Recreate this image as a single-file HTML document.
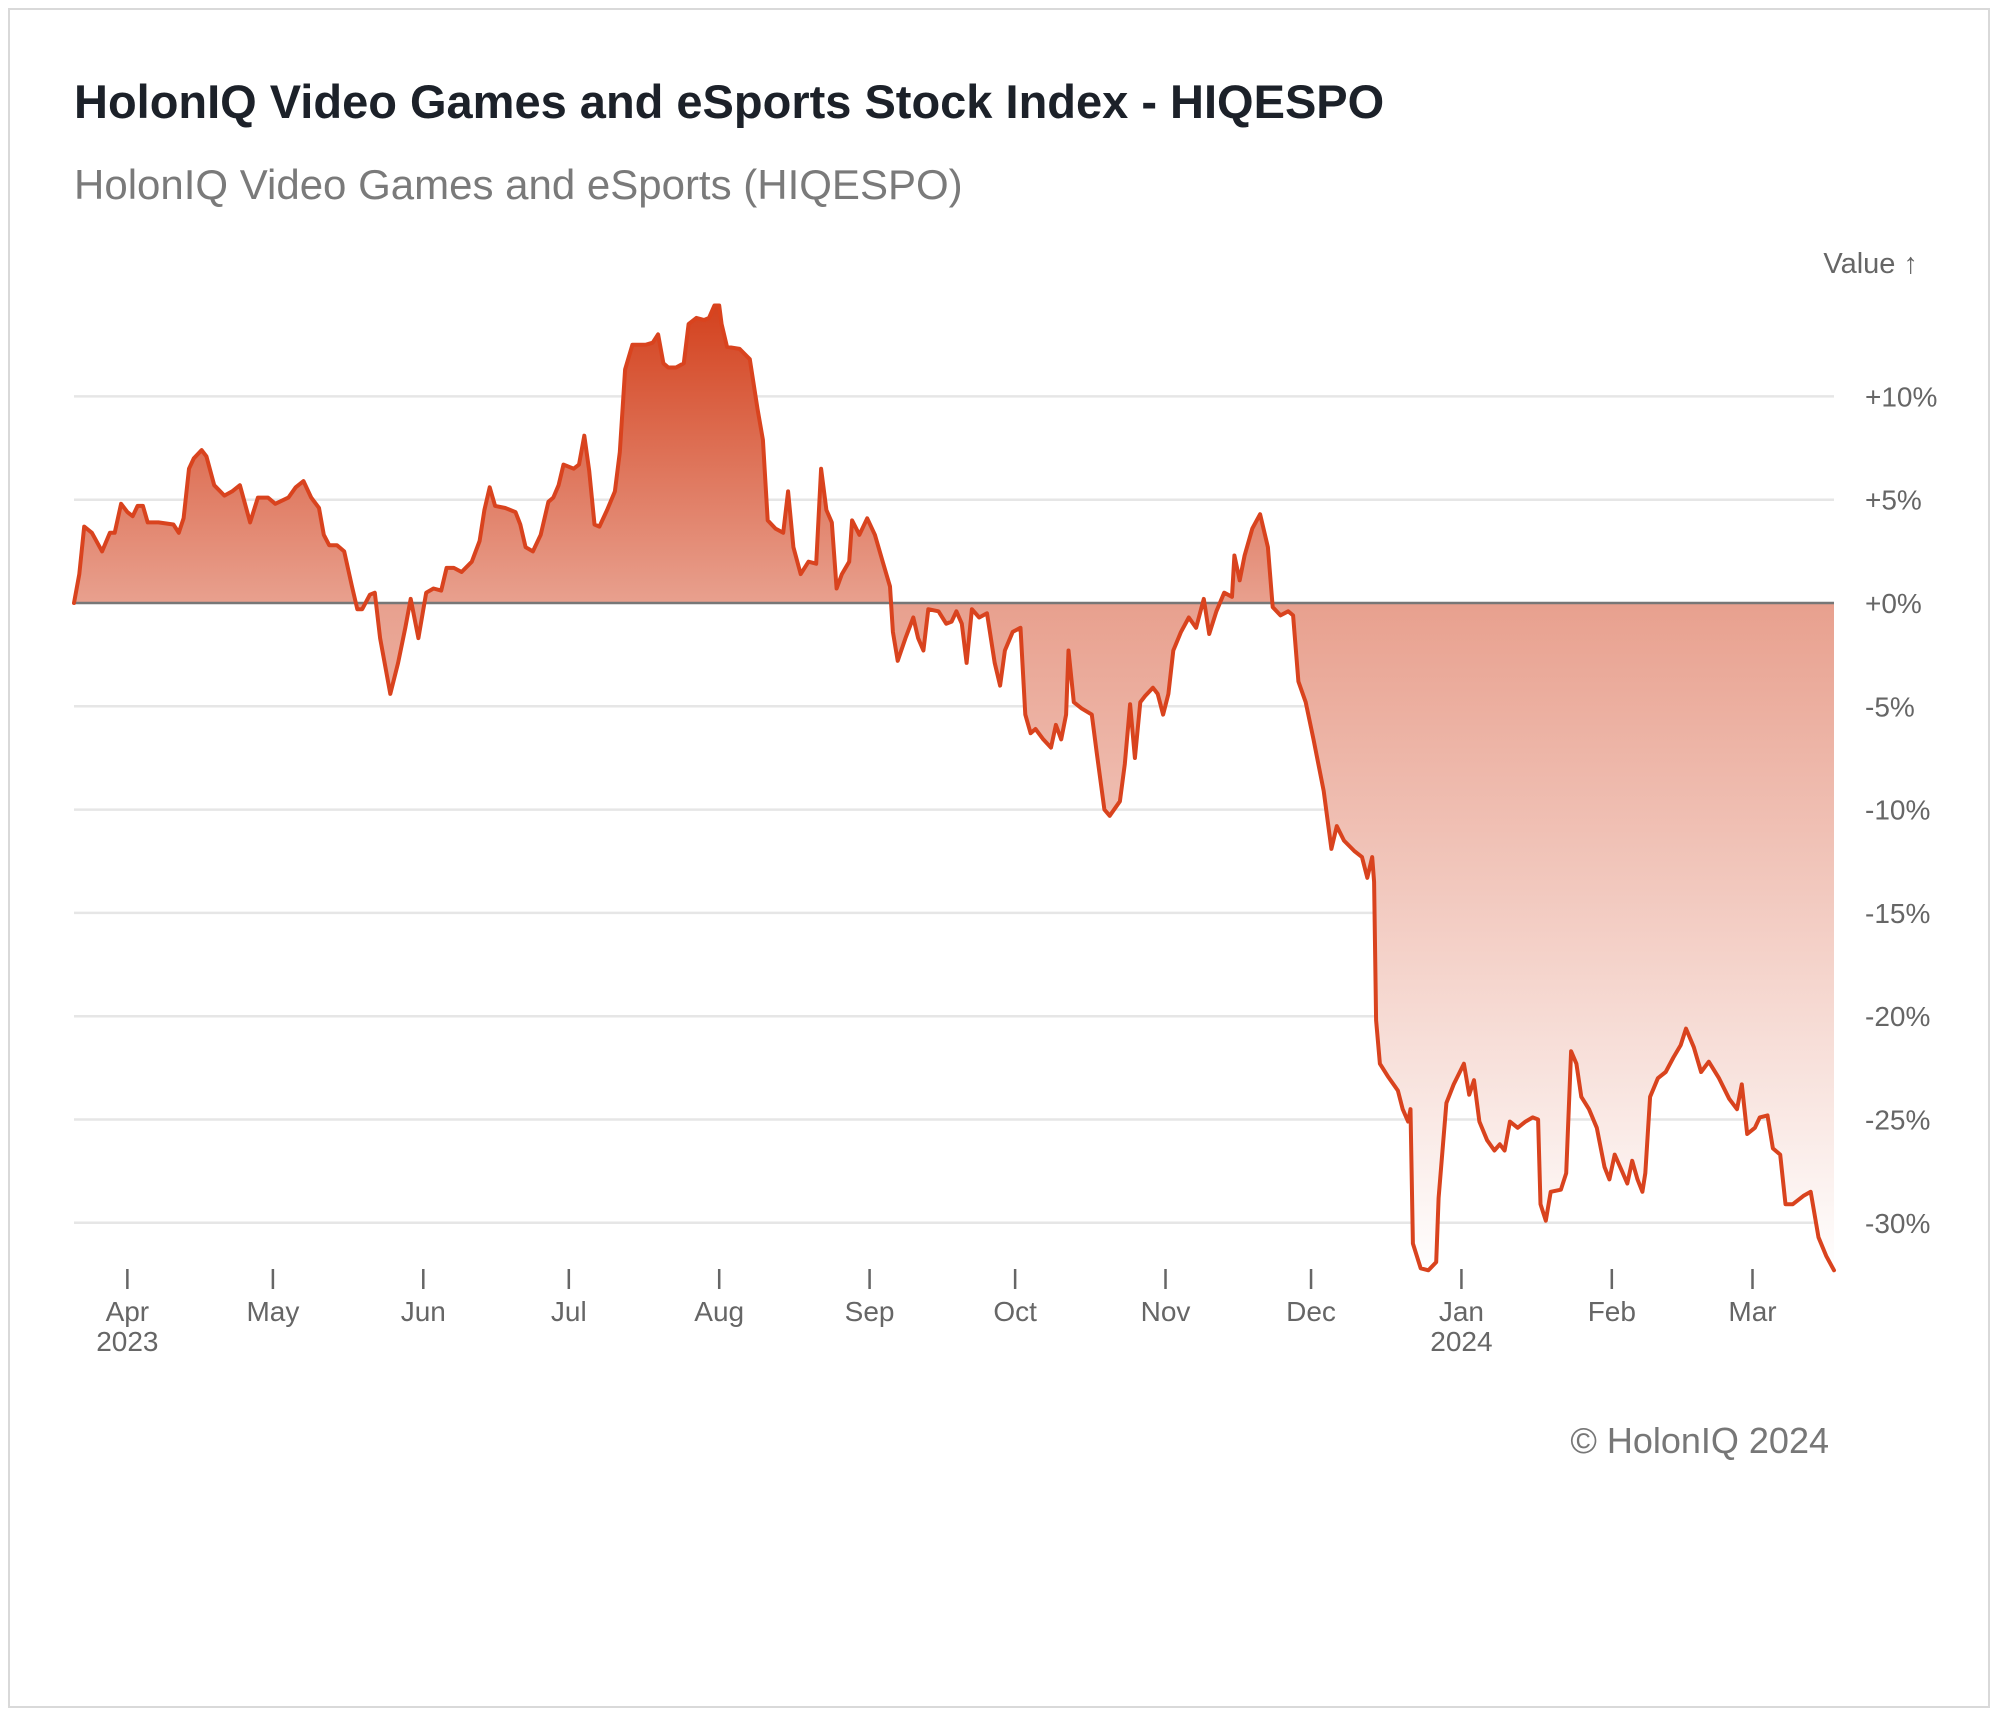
<!DOCTYPE html>
<html><head><meta charset="utf-8"><style>
html,body{margin:0;padding:0;background:#fff;}
body{width:2000px;height:1718px;position:relative;font-family:"Liberation Sans",sans-serif;}
#frame{position:absolute;left:8px;top:8px;width:1982px;height:1700px;border:2px solid #d9d9d9;box-sizing:border-box;}
</style></head><body>
<div id="frame"></div>
<svg id="chart" width="2000" height="1718" style="position:absolute;left:0;top:0">
<defs><linearGradient id="g" gradientUnits="userSpaceOnUse" x1="0" y1="300" x2="0" y2="1275">
<stop offset="0" stop-color="#d3401c"/><stop offset="0.31" stop-color="#e8a08e"/><stop offset="1" stop-color="#ffffff"/></linearGradient></defs>
<text x="74" y="118" font-size="47" font-weight="bold" fill="#1c2129">HolonIQ Video Games and eSports Stock Index - HIQESPO</text>
<text x="74" y="199" font-size="42" fill="#7a7a7a">HolonIQ Video Games and eSports (HIQESPO)</text>
<text x="1918" y="273" font-size="29" fill="#666" text-anchor="end">Value ↑</text>
<g id="grid"></g><g id="area"></g><g id="axes"></g>
<text x="1829" y="1453" font-size="36" fill="#777" text-anchor="end">© HolonIQ 2024</text>
</svg>
<script>
const days=[0,1.1,2.1,3.7,5.8,7.4,8.4,9.7,11.0,12.1,13.1,14.2,15.2,17.4,20.5,21.6,22.6,23.7,24.7,26.3,27.3,28.9,31.0,32.6,34.2,36.3,37.9,40.0,41.5,44.2,45.7,47.3,48.9,50.5,51.5,52.6,54.2,55.7,57.3,58.4,59.4,61.0,62.0,63.1,65.2,66.8,68.3,69.4,71.0,72.6,74.1,75.7,76.8,78.3,79.9,82.0,83.6,84.6,85.7,86.8,88.9,91.0,92.0,93.1,94.6,96.2,97.8,98.8,99.9,100.9,103.0,104.1,105.2,106.2,107.3,108.3,109.9,111.5,112.5,113.6,115.1,117.8,119.3,120.4,121.5,122.5,124.1,125.7,126.7,128.3,129.9,130.9,132.0,133.0,133.5,134.6,137.2,139.3,140.9,142.0,143.0,144.6,146.2,147.2,148.3,149.8,151.4,153.0,154.0,155.1,156.2,157.2,158.3,159.8,160.4,161.9,163.5,165.1,166.7,168.2,168.8,169.8,171.4,173.0,174.0,175.1,176.1,178.2,179.8,180.9,181.9,183.0,184.0,185.1,186.6,188.2,189.8,190.9,191.9,193.5,195.1,196.1,197.2,198.2,199.8,201.4,202.4,203.5,204.5,205.0,206.1,207.7,209.8,210.8,212.4,213.5,215.6,216.6,217.7,218.7,219.8,220.8,222.4,223.4,224.5,225.6,226.6,228.2,229.8,231.3,232.9,234.0,235.5,237.1,238.7,239.2,240.3,241.3,242.9,244.5,246.1,247.1,248.7,250.3,251.3,252.4,253.9,255.5,257.6,259.2,260.3,261.8,263.9,265.5,266.6,267.6,268.0,268.4,269.2,270.8,272.9,273.9,275.0,275.5,276.0,277.6,279.2,280.8,281.3,282.9,284.4,286.5,287.6,288.6,289.7,291.3,292.8,293.9,294.9,296.0,297.6,299.2,300.7,301.8,302.3,303.4,304.4,306.5,307.6,308.6,309.7,310.7,312.3,313.9,315.5,316.5,317.6,319.1,320.2,321.2,322.3,323.3,323.9,324.9,326.5,328.1,329.7,331.2,332.3,333.9,335.4,337.0,339.1,341.2,342.8,343.8,344.9,346.5,347.5,349.1,350.2,351.7,352.8,354.3,356.5,358.0,359.6,361.2,362.8];
const values=[0,1.4,3.7,3.4,2.5,3.4,3.4,4.8,4.4,4.2,4.7,4.7,3.9,3.9,3.8,3.4,4.1,6.5,7.0,7.4,7.1,5.7,5.2,5.4,5.7,3.9,5.1,5.1,4.8,5.1,5.6,5.9,5.1,4.6,3.3,2.8,2.8,2.5,0.8,-0.3,-0.3,0.4,0.5,-1.7,-4.4,-2.9,-1.2,0.2,-1.7,0.5,0.7,0.6,1.7,1.7,1.5,2.0,3.0,4.5,5.6,4.7,4.6,4.4,3.8,2.7,2.5,3.3,4.9,5.1,5.7,6.7,6.5,6.7,8.1,6.4,3.8,3.7,4.5,5.4,7.3,11.3,12.5,12.5,12.6,13.0,11.6,11.4,11.4,11.6,13.5,13.8,13.7,13.8,14.4,14.4,13.5,12.4,12.3,11.8,9.4,7.9,4.0,3.6,3.4,5.4,2.7,1.4,2.0,1.9,6.5,4.5,3.9,0.7,1.4,2.0,4.0,3.3,4.1,3.3,2.0,0.8,-1.4,-2.8,-1.7,-0.7,-1.7,-2.3,-0.3,-0.4,-1.0,-0.9,-0.4,-1.0,-2.9,-0.3,-0.7,-0.5,-2.9,-4.0,-2.3,-1.4,-1.2,-5.4,-6.3,-6.1,-6.6,-7.0,-5.9,-6.6,-5.4,-2.3,-4.8,-5.1,-5.4,-7.2,-10.0,-10.3,-9.6,-7.8,-4.9,-7.5,-4.8,-4.5,-4.1,-4.4,-5.4,-4.4,-2.3,-1.4,-0.7,-1.2,0.2,-1.5,-0.4,0.5,0.3,2.3,1.1,2.3,3.6,4.3,2.7,-0.2,-0.6,-0.4,-0.6,-3.8,-4.8,-6.6,-9.1,-11.9,-10.8,-11.5,-12.0,-12.3,-13.3,-12.3,-13.5,-20.2,-22.3,-22.9,-23.6,-24.5,-25.1,-24.5,-31.0,-32.2,-32.3,-31.9,-28.8,-24.2,-23.3,-22.3,-23.8,-23.1,-25.1,-26.0,-26.5,-26.2,-26.5,-25.1,-25.4,-25.1,-24.9,-25.0,-29.1,-29.9,-28.5,-28.4,-27.6,-21.7,-22.3,-23.9,-24.5,-25.4,-27.3,-27.9,-26.7,-27.5,-28.1,-27.0,-27.9,-28.5,-27.6,-23.9,-23.0,-22.7,-22.0,-21.4,-20.6,-21.5,-22.7,-22.2,-23.0,-24.0,-24.5,-23.3,-25.7,-25.4,-24.9,-24.8,-26.4,-26.7,-29.1,-29.1,-28.7,-28.5,-30.7,-31.6,-32.3];
const yTicks=[10,5,0,-5,-10,-15,-20,-25,-30];
const yTickLabels=["+10%","+5%","+0%","-5%","-10%","-15%","-20%","-25%","-30%"];
const monthDays=[11,41,72,102,133,164,194,225,255,286,317,346];
const monthLabels=["Apr","May","Jun","Jul","Aug","Sep","Oct","Nov","Dec","Jan","Feb","Mar"];
const yearLabels=["2023","","","","","","","","","2024","",""];
const NS="http://www.w3.org/2000/svg";
const X0=74,X1=1834,DMAX=362.8;
function xs(d){return X0+d*(X1-X0)/DMAX;}
function ys(v){return 603-v*20.66;}
function mk(tag,attrs,parent){const e=document.createElementNS(NS,tag);for(const k in attrs)e.setAttribute(k,attrs[k]);parent.appendChild(e);return e;}
const grid=document.getElementById('grid'),area=document.getElementById('area'),axes=document.getElementById('axes');
yTicks.forEach((t,i)=>{
  if(t!==0){const l=mk('line',{x1:X0,x2:X1,y1:ys(t),y2:ys(t),stroke:'#e6e6e6','stroke-width':2.5},grid);
  
  }
  const tx=mk('text',{x:1865,y:ys(t)+10,'font-size':28,fill:'#666'},axes);tx.textContent=yTickLabels[i];
  
  
});
let d='M'+xs(days[0])+','+ys(0);
days.forEach((dd,i)=>{d+=' L'+xs(dd).toFixed(1)+','+ys(values[i]).toFixed(1);});
const fillD=d+' L'+xs(days[days.length-1]).toFixed(1)+','+ys(0)+' Z';
const fa=mk('path',{d:fillD,fill:'url(#g)',stroke:'none'},area);


const zl=mk('line',{x1:X0,x2:X1,y1:ys(0),y2:ys(0),stroke:'#777','stroke-width':2.5},area);


let ld='';days.forEach((dd,i)=>{ld+=(i?' L':'M')+xs(dd).toFixed(1)+','+ys(values[i]).toFixed(1);});
const ln=mk('path',{d:ld,fill:'none',stroke:'#d9431e','stroke-width':4,'stroke-linejoin':'round','stroke-linecap':'round'},area);


monthDays.forEach((md,i)=>{
  const x=xs(md);
  const tk=mk('line',{x1:x,x2:x,y1:1269,y2:1289,stroke:'#666','stroke-width':2.5},axes);
  
  
  const t=mk('text',{x:x,y:1321,'font-size':28,fill:'#666','text-anchor':'middle'},axes);t.textContent=monthLabels[i];
  
  
  if(yearLabels[i]){const y=mk('text',{x:x,y:1351,'font-size':28,fill:'#666','text-anchor':'middle'},axes);y.textContent=yearLabels[i];
  
  }
});
</script>
</body></html>
